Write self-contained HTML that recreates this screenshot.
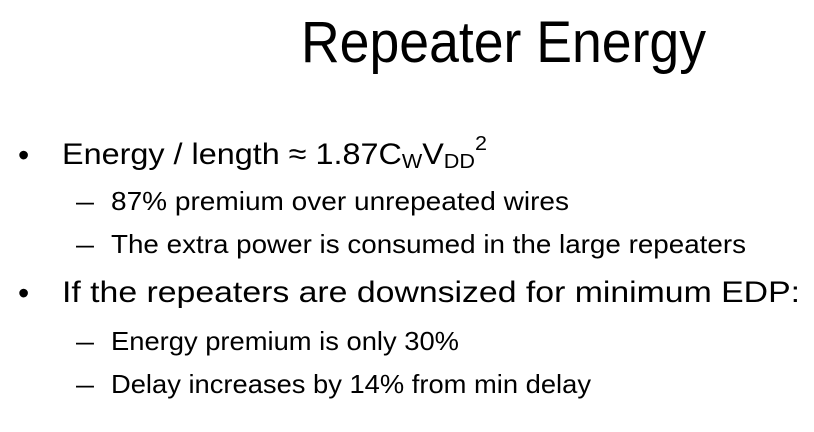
<!DOCTYPE html>
<html><head><meta charset="utf-8"><style>
html,body{margin:0;padding:0;background:#fff;width:814px;height:432px;overflow:hidden}
svg{display:block}
text{font-family:"Liberation Sans",sans-serif;fill:#000}
</style></head><body>
<svg width="814" height="432">
<text x="301" y="62" font-size="58" textLength="405" lengthAdjust="spacingAndGlyphs">Repeater Energy</text>
<text x="18" y="166" font-size="32">•</text>
<text x="62" y="164" font-size="30" textLength="425" lengthAdjust="spacingAndGlyphs">Energy / length ≈ 1.87C<tspan font-size="20" dy="4">W</tspan><tspan dy="-4">V</tspan><tspan font-size="20" dy="4">DD</tspan><tspan font-size="20" dy="-18">2</tspan></text>
<text x="76" y="210" font-size="26" textLength="18" lengthAdjust="spacingAndGlyphs">–</text>
<text x="111" y="210" font-size="26" textLength="458" lengthAdjust="spacingAndGlyphs">87% premium over unrepeated wires</text>
<text x="76" y="253" font-size="26" textLength="18" lengthAdjust="spacingAndGlyphs">–</text>
<text x="111" y="253" font-size="26" textLength="635" lengthAdjust="spacingAndGlyphs">The extra power is consumed in the large repeaters</text>
<text x="18" y="304" font-size="32">•</text>
<text x="62" y="302" font-size="30" textLength="738" lengthAdjust="spacingAndGlyphs">If the repeaters are downsized for minimum EDP:</text>
<text x="76" y="350" font-size="26" textLength="18" lengthAdjust="spacingAndGlyphs">–</text>
<text x="111" y="350" font-size="26" textLength="348" lengthAdjust="spacingAndGlyphs">Energy premium is only 30%</text>
<text x="76" y="393" font-size="26" textLength="18" lengthAdjust="spacingAndGlyphs">–</text>
<text x="111" y="393" font-size="26" textLength="480" lengthAdjust="spacingAndGlyphs">Delay increases by 14% from min delay</text>
</svg>
</body></html>
